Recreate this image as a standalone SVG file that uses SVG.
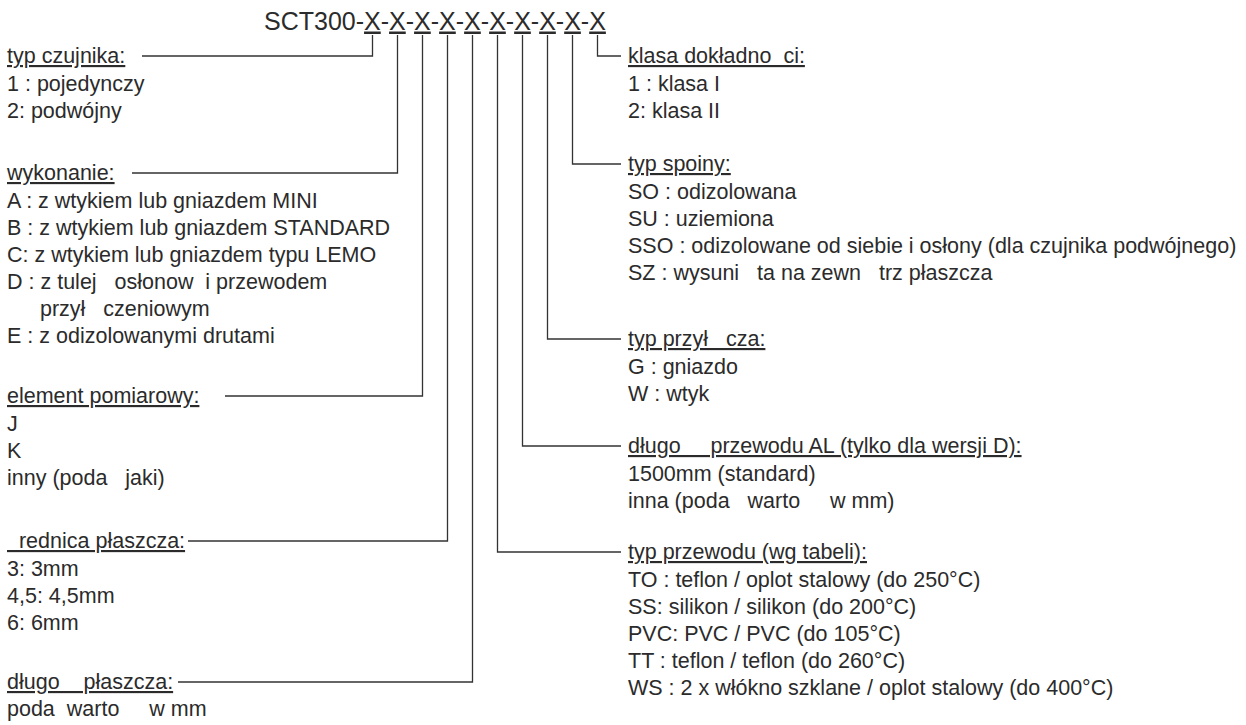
<svg xmlns="http://www.w3.org/2000/svg" width="1246" height="725" viewBox="0 0 1246 725">
<style>
text{font-family:"Liberation Sans",Arial,sans-serif;font-size:21.5px;fill:#2b2b2b;white-space:pre}
.h{text-decoration:underline;text-decoration-thickness:2px}
.title{font-size:25px}
.u{text-decoration:underline;text-decoration-thickness:2px}
.c{fill:none;stroke:#333;stroke-width:1.3}
</style>
<rect width="1246" height="725" fill="#fff"/>
<g id="title">
<text class="title" x="264" y="29.5">SCT300-<tspan class="u">X</tspan>-<tspan class="u">X</tspan>-<tspan class="u">X</tspan>-<tspan class="u">X</tspan>-<tspan class="u">X</tspan>-<tspan class="u">X</tspan>-<tspan class="u">X</tspan>-<tspan class="u">X</tspan>-<tspan class="u">X</tspan>-<tspan class="u">X</tspan></text>
</g>
<g id="connectors">
<polyline class="c" points="372.5,35 372.5,56 142,56"/>
<polyline class="c" points="397.5,35 397.5,173 132,173"/>
<polyline class="c" points="422.5,35 422.5,396 225,396"/>
<polyline class="c" points="447.5,35 447.5,541 188,541"/>
<polyline class="c" points="472.5,35 472.5,682 178,682"/>
<polyline class="c" points="497.5,35 497.5,552 621,552"/>
<polyline class="c" points="522.5,35 522.5,446 621,446"/>
<polyline class="c" points="547.5,35 547.5,339 621,339"/>
<polyline class="c" points="572.5,35 572.5,164 621,164"/>
<polyline class="c" points="597.5,35 597.5,56 621,56"/>
</g>
<g id="typ-czujnika">
<text class="h" x="7" y="63">typ czujnika:</text>
<text x="7" y="91">1 : pojedynczy</text>
<text x="7" y="118">2: podwójny</text>
</g>
<g id="wykonanie">
<text class="h" x="7" y="180">wykonanie:</text>
<text x="7" y="208">A : z wtykiem lub gniazdem MINI</text>
<text x="7" y="235">B : z wtykiem lub gniazdem STANDARD</text>
<text x="7" y="262">C: z wtykiem lub gniazdem typu LEMO</text>
<text x="7" y="289">D : z tulej   osłonow  i przewodem</text>
<text x="40" y="316">przył   czeniowym</text>
<text x="7" y="343">E : z odizolowanymi drutami</text>
</g>
<g id="element-pomiarowy">
<text class="h" x="7" y="403">element pomiarowy:</text>
<text x="7" y="431">J</text>
<text x="7" y="458">K</text>
<text x="7" y="485">inny (poda   jaki)</text>
</g>
<g id="srednica-plaszcza">
<text class="h" x="7" y="548">  rednica płaszcza:</text>
<text x="7" y="576">3: 3mm</text>
<text x="7" y="603">4,5: 4,5mm</text>
<text x="7" y="630">6: 6mm</text>
</g>
<g id="dlugosc-plaszcza">
<text class="h" x="7" y="689">długo    płaszcza:</text>
<text x="7" y="716">poda  warto     w mm</text>
</g>
<g id="klasa-dokladnosci">
<text class="h" x="628" y="63">klasa dokładno  ci:</text>
<text x="628" y="91">1 : klasa I</text>
<text x="628" y="118">2: klasa II</text>
</g>
<g id="typ-spoiny">
<text class="h" x="628" y="171">typ spoiny:</text>
<text x="628" y="199">SO : odizolowana</text>
<text x="628" y="226">SU : uziemiona</text>
<text x="628" y="253">SSO : odizolowane od siebie i osłony (dla czujnika podwójnego)</text>
<text x="628" y="280">SZ : wysuni   ta na zewn   trz płaszcza</text>
</g>
<g id="typ-przylacza">
<text class="h" x="628" y="346">typ przył   cza:</text>
<text x="628" y="374">G : gniazdo</text>
<text x="628" y="401">W : wtyk</text>
</g>
<g id="dlugosc-przewodu">
<text class="h" x="628" y="453">długo     przewodu AL (tylko dla wersji D):</text>
<text x="628" y="481">1500mm (standard)</text>
<text x="628" y="508">inna (poda   warto     w mm)</text>
</g>
<g id="typ-przewodu">
<text class="h" x="628" y="559">typ przewodu (wg tabeli):</text>
<text x="628" y="587">TO : teflon / oplot stalowy (do 250°C)</text>
<text x="628" y="614">SS: silikon / silikon (do 200°C)</text>
<text x="628" y="641">PVC: PVC / PVC (do 105°C)</text>
<text x="628" y="668">TT : teflon / teflon (do 260°C)</text>
<text x="628" y="695">WS : 2 x włókno szklane / oplot stalowy (do 400°C)</text>
</g>
</svg>
